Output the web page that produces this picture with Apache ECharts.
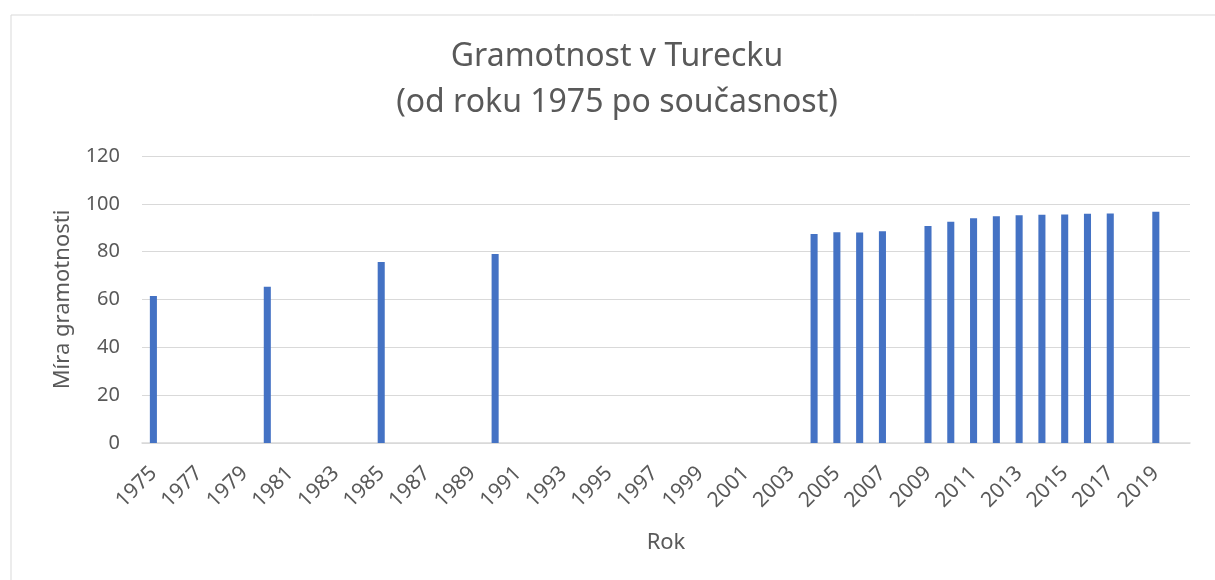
<!DOCTYPE html>
<html>
<head>
<meta charset="utf-8">
<script src="https://cdn.jsdelivr.net/npm/echarts@6/dist/echarts.min.js"></script>
<style>html,body{margin:0;padding:0;background:#fff;}#c{width:1215px;height:580px;}</style>
</head>
<body>
<div id="c"></div>
<script>
const years = [];
for (let y = 1975; y <= 2020; y++) years.push(String(y));
const dataYears = ['1975','1980','1985','1990','2004','2005','2006','2007','2009','2010','2011','2012','2013','2014','2015','2016','2017','2019'];
const literacy = [61.5, 65.3, 75.7, 79.0, 87.4, 88.1, 88.0, 88.5, 90.7, 92.5, 94.0, 94.8, 95.2, 95.4, 95.5, 95.9, 96.0, 96.7];
const titleLines = ['Gramotnost v Turecku', '(od roku 1975 po současnost)'];

const series = years.map(y => {
  const i = dataYears.indexOf(y);
  return i >= 0 ? literacy[i] : null;
});

const chart = echarts.init(document.getElementById('c'));
const txt = '#595959';
const font = '"Noto Sans", sans-serif';
const titleFont = '32px "Noto Sans", sans-serif';
chart.setOption({
  animation: false,
  backgroundColor: '#fff',
  graphic: [{
    type: 'rect', left: 8.5, top: 12.5,
    shape: { width: 1230, height: 600 },
    style: { fill: 'none', stroke: '#d9d9d9', lineWidth: 1 }, silent: true
  }, {
    type: 'text', x: 617, y: 57, silent: true,
    style: { text: titleLines[0], font: titleFont, fill: txt, align: 'center', verticalAlign: 'middle' }
  }, {
    type: 'text', x: 617, y: 103, silent: true,
    style: { text: titleLines[1], font: titleFont, fill: txt, align: 'center', verticalAlign: 'middle' }
  }],
  grid: { left: 142, right: 25, top: 156, bottom: 137 },
  xAxis: {
    type: 'category',
    data: years,
    name: 'Rok', nameLocation: 'middle', nameGap: 89,
    nameTextStyle: { color: txt, fontSize: 22, fontFamily: font },
    axisLine: { lineStyle: { color: '#d9d9d9', width: 1.5 } },
    axisTick: { show: false },
    axisLabel: { interval: 1, rotate: 45, color: txt, fontSize: 21, fontFamily: font, margin: 27 }
  },
  yAxis: {
    type: 'value', min: 0, max: 120, interval: 20,
    name: 'Míra gramotnosti', nameLocation: 'middle', nameGap: 68,
    nameTextStyle: { color: txt, fontSize: 22, fontFamily: font },
    axisLine: { show: false }, axisTick: { show: false },
    axisLabel: { color: txt, fontSize: 20, fontFamily: font, margin: 22 },
    splitLine: { lineStyle: { color: '#d9d9d9', width: 1.2 } }
  },
  series: [{
    type: 'bar', data: series, barWidth: '31%',
    itemStyle: { color: '#4472c4' }
  }]
});
</script>
</body>
</html>
